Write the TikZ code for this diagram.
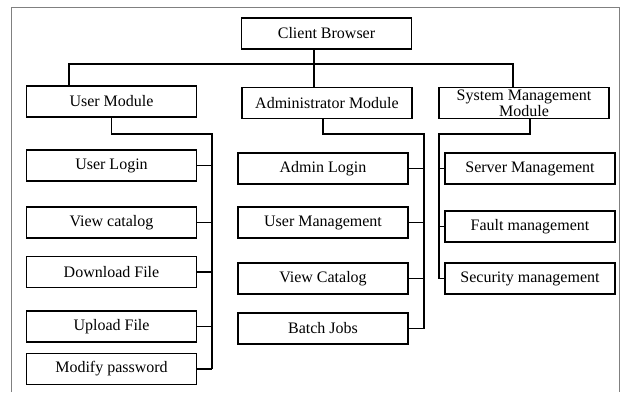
\documentclass[tikz,border=0pt]{standalone}
\usepackage{fontspec}
\setmainfont{Liberation Serif}
\begin{document}
\begin{tikzpicture}[x=1pt,y=-1pt,
  box/.style={draw, line width=1.8pt, minimum width=170pt, minimum height=31pt, inner sep=0pt, font=\fontsize{16}{16}\selectfont},
  link/.style={line width=1.1pt}]
\useasboundingbox (0,0) rectangle (620,392);
\draw[gray, line width=1pt] (11,392) -- (11,7) -- (619,7) -- (619,392);
\node[box] (client) at (326.5,33.5) {Client Browser};
\node[box] (user) at (111.5,101.5) {User Module};
\node[box] (admin) at (327,103) {Administrator Module};
\node[box, align=center] (sys) at (524,103) {System Management\\Module};
\foreach \n/\y/\t in {ulogin/165.5/User Login, uview/222.5/View catalog, udown/272/Download File, uup/326.5/Upload File, umod/369/Modify password}
  \node[box] (\n) at (111.5,\y) {\t};
\foreach \n/\y/\t in {alogin/168.5/Admin Login, amgmt/222.5/User Management, aview/278.5/View Catalog, abatch/328.5/Batch Jobs}
  \node[box] (\n) at (323,\y) {\t};
\foreach \n/\y/\t in {sserver/168.5/Server Management, sfault/226.5/Fault management, ssec/278.5/Security management}
  \node[box] (\n) at (530,\y) {\t};
\coordinate (busL) at (69,64);
\coordinate (busR) at (513,64);
\coordinate (ubus) at (212,134);
\coordinate (abus) at (424,134);
\coordinate (sbus) at (439,134);
\draw[link] (client.south -| 314,0) -- (admin.north -| 314,0);
\draw[link] (user.north -| busL) -- (busL) -- (busR) -- (sys.north -| busR);
\draw[link] (user.south) |- (ubus) -- (ubus |- umod.east);
\draw[link] (admin.south -| alogin.north) |- (abus) -- (abus |- abatch.east);
\draw[link] (sys.south -| sserver.north) |- (sbus) -- (sbus |- ssec.west);
\foreach \n in {ulogin,uview,udown,uup,umod} \draw[link] (\n.east) -- (\n.east -| ubus);
\foreach \n in {alogin,amgmt,aview,abatch} \draw[link] (\n.east) -- (\n.east -| abus);
\foreach \n in {sserver,sfault,ssec} \draw[link] (\n.west) -- (\n.west -| sbus);
\end{tikzpicture}
\end{document}
